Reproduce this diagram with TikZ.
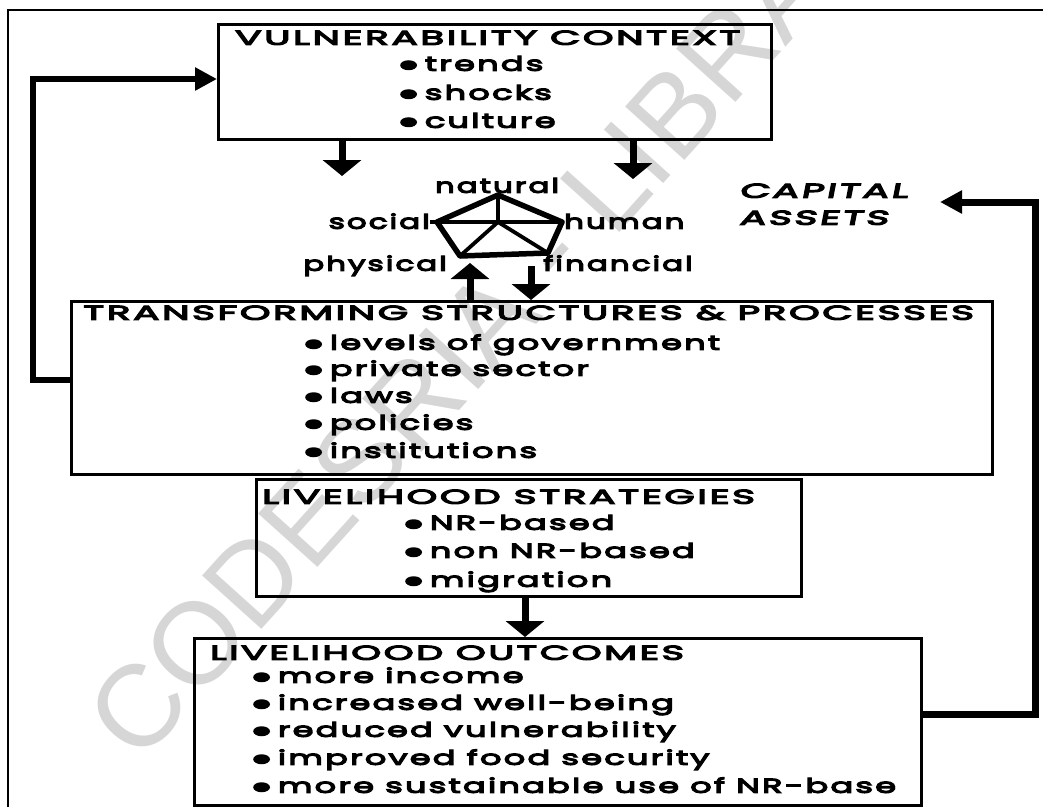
\documentclass[tikz,border=0pt]{standalone}
\usepackage{fontspec}
\usepackage{graphicx}
\setmainfont{Poppins}
\newfontfamily\df[FakeStretch=1.5,LetterSpace=10,FakeBold=6]{Poppins}
\newfontfamily\dfs[FakeStretch=1.5,LetterSpace=10,FakeBold=6,FakeSlant=0.15]{Poppins}
\newfontfamily\wmfont{Liberation Sans}
\usetikzlibrary{arrows.meta}
\newcommand\bul{\tikz[baseline=-5.5pt]\fill (0,0) ellipse[x radius=7.5pt,y radius=5pt];\hspace{7pt}}
\newcommand\capsw[1]{\scalebox{1.3}[1]{#1}}
\newcommand\itemw[1]{\scalebox{1.12}[1]{#1}}
\newcommand\lblw[1]{\scalebox{1.03}[1]{#1}}
\begin{document}
\begin{tikzpicture}[x=1pt,y=-1pt,
  boxnode/.style={draw,line width=3.2pt,inner sep=0pt,anchor=north west},
  txt/.style={font={\fontsize{20}{24}\selectfont\df},inner sep=0pt},
  item/.style={txt,anchor=mid west},
  bigarr/.style={line width=7pt,-{Triangle[width=38pt,length=16pt]}},
  fbarr/.style={line width=6.5pt,-{Triangle[width=22pt,length=22pt]}},
  pent/.style={line width=5.5pt,line join=round},
  spoke/.style={line width=3.8pt}]
\useasboundingbox (0,0) rectangle (1043,807);
% watermark
\node[rotate=48,text=black!16,inner sep=0pt,font={\fontsize{116}{116}\selectfont\wmfont}] (wm) at (512,292) {CODESRIA - LIBRARY};
% outer frame
\draw[line width=2pt] (8,807) -- (8,10) -- (1043,10);
% boxes
\node[boxnode,minimum width=553pt,minimum height=115pt] (vc) at (217,23) {};
\node[boxnode,minimum width=921pt,minimum height=173pt] (tsp) at (70,300) {};
\node[boxnode,minimum width=545pt,minimum height=117pt] (ls) at (255,478) {};
\node[boxnode,minimum width=727pt,minimum height=167pt] (lo) at (193,637) {};
% VC text
\node[item] (vct) at (235,42) {\capsw{VULNERABILITY CONTEXT}};
\node[item] (vc1) at (400,68) {\itemw{\bul trends}};
\node[item] (vc2) at (400,97) {\itemw{\bul shocks}};
\node[item] (vc3) at (400,125) {\itemw{\bul culture}};
% TSP text
\node[item] (tspt) at (83,317) {\capsw{TRANSFORMING STRUCTURES \& PROCESSES}};
\node[item] (tsp1) at (305,347) {\itemw{\bul levels of government}};
\node[item] (tsp2) at (305,373) {\itemw{\bul private sector}};
\node[item] (tsp3) at (305,400) {\itemw{\bul laws}};
\node[item] (tsp4) at (305,427) {\itemw{\bul policies}};
\node[item] (tsp5) at (305,455) {\itemw{\bul institutions}};
% LS text
\node[item] (lst) at (262,501) {\capsw{LIVELIHOOD STRATEGIES}};
\node[item] (ls1) at (405,527) {\itemw{\bul NR-based}};
\node[item] (ls2) at (405,555) {\itemw{\bul non NR-based}};
\node[item] (ls3) at (405,584) {\itemw{\bul migration}};
% LO text
\node[item] (lot) at (210,657) {\scalebox{1.27}[1]{LIVELIHOOD OUTCOMES}};
\node[item] (lo1) at (253,680) {\itemw{\bul more income}};
\node[item] (lo2) at (253,707) {\itemw{\bul increased well-being}};
\node[item] (lo3) at (253,734) {\itemw{\bul reduced vulnerability}};
\node[item] (lo4) at (253,762) {\itemw{\bul improved food security}};
\node[item] (lo5) at (253,790) {\itemw{\bul more sustainable use of NR-base}};
% capital assets pentagon
\coordinate (pT) at (498,195);
\coordinate (pL) at (437,222);
\coordinate (pBL) at (460,256);
\coordinate (pBR) at (548,253);
\coordinate (pR) at (562,222);
\coordinate (pC) at (498,222);
\draw[pent] (pT) -- (pR) -- (pBR) -- (pBL) -- (pL) -- cycle;
\node[txt,anchor=mid] (nat) at (497,190) {\lblw{natural}};
\node[txt,anchor=mid east] (soc) at (430,226) {\lblw{social}};
\node[txt,anchor=mid west] (hum) at (564,226) {\lblw{human}};
\node[txt,anchor=mid east] (phy) at (447,268) {\lblw{physical}};
\node[txt,anchor=mid west] (fin) at (543,268) {\lblw{financial}};
\draw[spoke] (pT) -- (pC) (pC) -- (pBL) (pC) -- (pBR) (soc.east |- pC) -- (hum.west |- pC);
\node[txt,anchor=mid west,font={\fontsize{20}{24}\selectfont\dfs}] (ca1) at (739,195) {\capsw{CAPITAL}};
\node[txt,anchor=mid west,font={\fontsize{20}{24}\selectfont\dfs}] (ca2) at (739,222) {\capsw{ASSETS}};
% arrows
\coordinate (a1) at (342,176);
\coordinate (a2) at (633,179);
\draw[bigarr] (vc.south -| a1) -- (a1);
\draw[bigarr] (vc.south -| a2) -- (a2);
\coordinate (pa1) at (470,263);
\coordinate (pa2) at (531,266);
\draw[bigarr] (tsp.north -| pa1) -- (pa1);
\draw[bigarr] (pa2) -- (pa2 |- tsp.north);
\coordinate (a3) at (525,596);
\draw[bigarr] (a3) -- (a3 |- lo.north);
% feedback loops
\coordinate (l1) at (33,380);
\coordinate (l2) at (33,79);
\draw[fbarr] (tsp.west |- l1) -- (l1) -- (l2) -- (vc.west |- l2);
\coordinate (r1) at (1035,714);
\coordinate (r2) at (1035,202);
\coordinate (catip) at (940,202);
\draw[fbarr,line width=7pt] (lo.east |- r1) -- (r1) -- (r2) -- (catip);
\end{tikzpicture}
\end{document}
